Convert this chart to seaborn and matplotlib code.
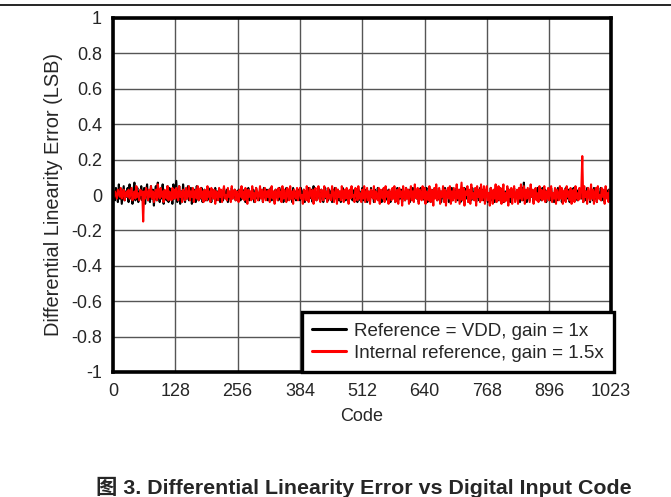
import numpy as np
import pandas as pd
from matplotlib import pyplot as plt
import seaborn as sns

## ------------------------------------------------------------------ ##
## data (DNL in hundredths of an LSB, one value every 2 codes)
## ------------------------------------------------------------------ ##
codeStep = 2
vddGain1 = [
    -1, 2, -3, 4, 1, -4, 6, -2, 3, -5, 0, 5, -3, 2, -1, 4, -4, 6, -2, 1, -5, 3, 7, -3, 0, 4, -4, 2, -2, 5, -3, 1,
    4, -5, 2, 6, -3, 0, -4, 5, -2, 3, -6, 1, 5, -3, 7, -1, -4, 3, -2, 6, -5, 2, 0, -3, 5, -4, 4, -2, 1, -5, 6, -2,
    3, 8, -4, 1, 5, -5, 2, -3, 6, 0, -4, 3, -2, 5, -3, 1, 4, -5, 2, -1, 3, -4, 5, 0, -3, 2, -2, 4, -4, 1, 3, -3,
    2, -3, 4, -1, 1, -4, 3, 0, -2, 4, -3, 2, -1, 3, -4, 1, 2, -3, 4, 0, -2, 3, -4, 2, 1, -3, 4, -2, 0, 3, -3, 2,
    -2, 3, 1, -3, 4, -2, 0, 3, -4, 2, -1, 4, -3, 1, 2, -2, 3, -4, 0, 4, -2, 1, -3, 3, -1, 2, -4, 4, 0, -2, 3, -3,
    1, -2, 4, -3, 2, 0, -4, 3, -1, 2, -3, 4, 1, -2, 3, -4, 2, -1, 4, -3, 0, 3, -2, 1, -4, 4, -2, 2, -3, 1, 3, -2,
    -3, 4, 0, -2, 3, -4, 2, 1, -3, 4, -2, 0, 3, -4, 5, -1, 2, -3, 1, 4, -2, -3, 3, 0, -4, 2, 4, -2, 1, -3, 3, -1,
    2, -4, 3, -1, 4, -2, 0, 3, -3, 2, -4, 1, 4, -2, 2, -3, 3, 0, -4, 2, -1, 4, -3, 1, 3, -2, 0, -4, 3, 2, -3, 1,
    4, -3, 1, -2, 3, -4, 2, 0, -3, 4, -1, 2, -4, 3, 1, -2, 4, -3, 0, 2, -4, 3, -1, 4, -2, 1, -3, 3, 0, -4, 2, -2,
    3, -1, -4, 2, 4, -3, 1, -2, 3, -4, 2, 0, -3, 4, -2, 1, 3, -4, 2, -1, 4, -3, 0, 2, -2, 3, -4, 1, 4, -2, -1, 3,
    -3, 2, 4, -4, 1, -2, 3, 0, -4, 3, -1, 2, 4, -3, -2, 3, 1, -4, 2, 0, -3, 4, -2, 1, 3, -4, 2, -1, 4, -3, 0, 2,
    -2, 4, -3, 1, 3, -4, 0, 2, -3, 4, -1, -2, 3, -4, 2, 1, -3, 4, -2, 0, 3, -4, 1, 2, -3, 4, -1, -2, 3, -3, 2, 0,
    3, -4, 1, -2, 4, -3, 2, 0, -4, 3, -1, 2, -3, 4, 1, -2, 3, -4, 0, 2, -3, 4, -2, 1, -4, 3, 2, -1, 4, -3, 0, 2,
    -2, 3, -4, 1, 4, -3, 7, -2, 2, -4, 3, 0, -3, 4, -1, 2, -4, 3, 1, -2, 4, -3, 0, 2, -3, 4, -2, 1, 3, -4, 2, -1,
    2, -3, 4, -1, 0, -4, 3, 2, -3, 4, -2, 1, 3, -4, 0, 2, -3, 4, -1, -2, 3, -4, 2, 1, -3, 4, -2, 0, 3, -3, 2, -1,
    3, -2, 4, -4, 1, 2, -3, 4, -1, 0, -4, 3, 2, -3, 4, -2, 1, -4, 3, 0, -2, 4, -3, 1, 2, -4, 3, -1, 0, 3, -2, 1,
]
intRefGain15 = [
    1, -1, 2, 0, -2, 3, 1, -1, 4, -2, 0, 3, -3, 1, 2, -1, 3, -2, 1, 4, -3, 0, 2, -2, 5, -1, 1, -3, 3, 0, 2, -15,
    2, -2, 4, 1, -3, 3, -1, 5, -2, 2, -4, 1, 3, -3, 6, 0, -2, 4, -1, 2, -4, 3, 1, -2, 5, -3, 2, 0, -3, 4, -2, 3,
    -2, 4, 0, -3, 5, -1, 2, -4, 3, 1, -3, 4, -2, 0, 5, -3, 2, -1, 4, -4, 1, 3, -2, 5, -3, 0, 4, -2, 2, -4, 3, 1,
    -3, 5, -1, 2, -4, 4, 0, -2, 3, -5, 2, 1, -3, 4, -1, 3, -4, 2, 5, -2, 0, -3, 4, -1, 2, -4, 5, -2, 1, 3, -3, 2,
    0, -4, 3, -1, 5, -2, 2, -3, 4, 0, -5, 3, -1, 2, -3, 5, -2, 1, -4, 4, 2, -3, 0, 5, -2, 3, -4, 1, 4, -3, 2, -1,
    3, -4, 1, 5, -2, 2, -5, 3, 0, -3, 4, -1, 2, -4, 5, -2, 3, -1, -4, 4, 1, -3, 5, -2, 2, -5, 3, 0, -2, 4, -3, 1,
    4, -2, 0, -5, 3, 2, -3, 5, -1, -4, 4, 1, -2, 3, -5, 2, 4, -3, 0, 5, -2, -4, 3, 1, -3, 5, -1, 2, -4, 4, -2, 0,
    -3, 5, 2, -4, 1, 4, -5, 3, -1, 2, -3, 5, 0, -4, 3, -2, 4, 1, -5, 3, -2, 5, -1, 0, -4, 4, 2, -3, 5, -2, 1, -4,
    3, -2, 5, -4, 0, 4, -3, 2, -5, 3, 1, -2, 5, -4, 2, 0, -3, 4, -5, 3, 1, -2, 4, -4, 5, -1, 2, -5, 3, 0, -3, 4,
    -2, 5, -4, 1, 3, -5, 4, -1, 2, -6, 5, 0, -3, 4, -2, 3, -5, 1, 5, -3, 2, -4, 6, -1, -2, 4, -5, 3, 1, -3, 5, -2,
    4, -5, 2, 0, -3, 5, -4, 3, 1, -6, 4, -2, 6, -3, 0, 4, -5, 2, -1, 5, -4, 3, -6, 1, 4, -2, 5, -5, 2, -3, 4, 0,
    -4, 6, -2, 3, -5, 1, 7, -3, 4, -6, 2, 0, 5, -4, 3, -5, 6, -2, 1, -3, 4, -6, 5, -1, 3, -4, 6, -3, 0, 5, -5, 2,
    5, -3, 1, -6, 4, 2, -5, 3, -2, 6, -4, 0, 5, -3, 4, -5, 2, 6, -4, 1, -3, 5, -6, 3, -1, 4, -5, 2, 5, -4, 0, 3,
    -5, 4, -2, 6, -3, 1, 5, -5, 3, -2, 4, 0, -4, 6, -1, 3, -5, 2, 4, -3, 1, -4, 5, -2, 3, -3, 0, 5, -4, 2, -2, 4,
    -3, 2, 5, -4, 1, -2, 4, -5, 3, 0, -3, 5, -2, 4, -5, 1, 3, -4, 5, -1, 2, -3, 4, -5, 0, 3, -4, 5, -2, 1, -3, 4,
    -2, 3, 22, -4, 5, -1, 2, -5, 4, 0, -3, 6, -2, 3, -5, 1, 4, -4, 5, -2, 0, -3, 4, -1, 3, -5, 5, -2, 1, -4, 3, 2,
]
xTicks = [0, 128, 256, 384, 512, 640, 768, 896, 1023]
yTicks = [-1, -0.8, -0.6, -0.4, -0.2, 0, 0.2, 0.4, 0.6, 0.8, 1]
yTickLabels = ['-1', '-0.8', '-0.6', '-0.4', '-0.2', '0', '0.2', '0.4', '0.6', '0.8', '1']

codes = np.arange(len(vddGain1)) * codeStep
df = pd.DataFrame({
    'Code': codes,
    'vdd': np.array(vddGain1) / 100.0,
    'intref': np.array(intRefGain15) / 100.0,
})

## ------------------------------------------------------------------ ##
## plot
## ------------------------------------------------------------------ ##
sns.set_style('whitegrid')
plt.rcParams['font.family'] = ['Liberation Sans', 'Noto Sans CJK SC', 'DejaVu Sans']

fig = plt.figure(figsize=(6.71, 4.97), dpi=100)
ax = fig.add_axes([113 / 671, 1 - 372 / 497, 498 / 671, 354 / 497])

sns.lineplot(data=df, x='Code', y='vdd', color='black', linewidth=1.5,
             label='Reference = VDD, gain = 1x', ax=ax)
sns.lineplot(data=df, x='Code', y='intref', color='#ff0000', linewidth=1.5,
             label='Internal reference, gain = 1.5x', ax=ax)

ax.set_xlim(0, 1023)
ax.set_ylim(-1, 1)
ax.set_xticks(xTicks)
ax.set_xticklabels([str(t) for t in xTicks])
ax.set_yticks(yTicks)
ax.set_yticklabels(yTickLabels)
ax.tick_params(labelsize=13, length=0, pad=8)
ax.grid(True, color='#555555', linewidth=1.0)
for s in ax.spines.values():
    s.set_visible(True)
    s.set_color('black')
    s.set_linewidth(2.6)
ax.set_xlabel('Code', fontsize=13, labelpad=5.5)
ax.set_ylabel('Differential Linearity Error (LSB)', fontsize=14.4, labelpad=6)

leg = ax.legend(loc='lower right', bbox_to_anchor=(1.007, 0), borderaxespad=0,
                fancybox=False, framealpha=1, edgecolor='black', fontsize=13.5,
                handlelength=1.8, handletextpad=0.45, labelspacing=0.25,
                borderpad=0.55)
leg.get_frame().set_linewidth(2.4)
for h in leg.get_lines():
    h.set_linewidth(2.2)

# rule at top of page and caption
fig.add_artist(plt.Line2D([0, 1], [1 - 5 / 497, 1 - 5 / 497], color='black', linewidth=1.2))
fig.text(363.5 / 671, 1 - 487 / 497, '图 3. Differential Linearity Error vs Digital Input Code',
         ha='center', va='center', fontsize=15.4, fontweight='bold')

plt.savefig('out.png', dpi=100)
